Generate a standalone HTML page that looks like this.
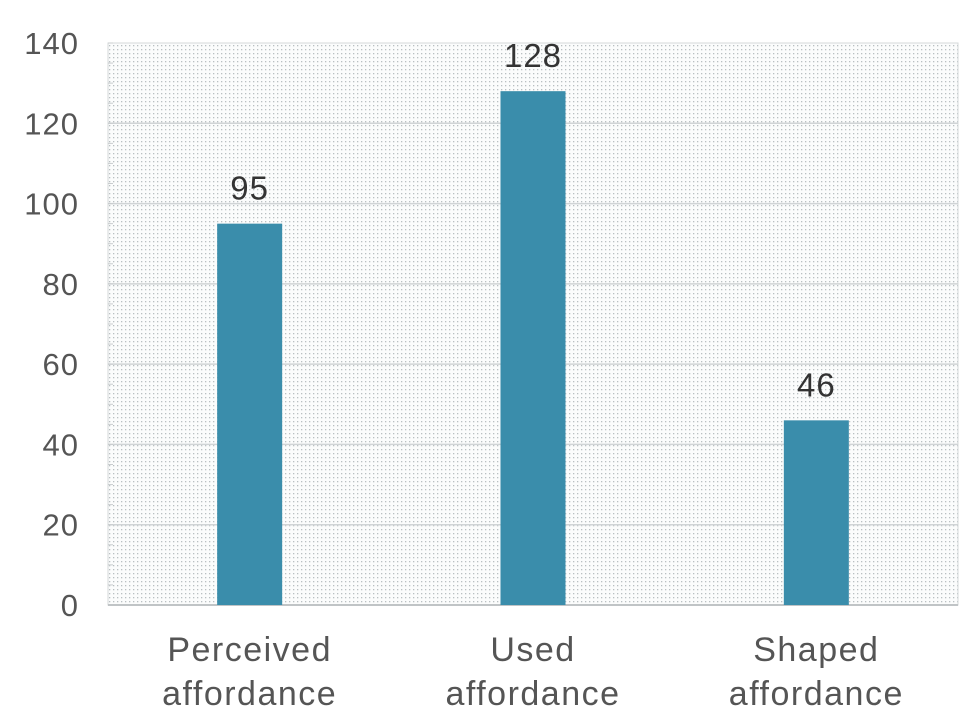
<!DOCTYPE html>
<html><head><meta charset="utf-8"><style>
html,body{margin:0;padding:0;background:#fff;width:972px;height:722px;overflow:hidden}
text{font-family:"Liberation Sans","DejaVu Sans",sans-serif}
</style></head><body>
<svg id="chart" width="972" height="722">
<defs><pattern id="dots" width="4" height="4" patternUnits="userSpaceOnUse"><rect width="4" height="4" fill="#fbfcfc"/><rect x="1" y="1" width="1.3" height="1.3" fill="#b9bfc2"/></pattern></defs>
<rect x="108" y="43" width="850" height="562" fill="url(#dots)" stroke="#d4d8da"/>
<g id="grid"></g><g id="bars"></g><g id="labels"></g>
</svg>
<script>
const categories=[["Perceived","affordance"],["Used","affordance"],["Shaped","affordance"]];
const values=[95,128,46];
const ticks=[0,20,40,60,80,100,120,140];
const NS="http://www.w3.org/2000/svg";
const x0=108,x1=958,yTop=43,yBot=605,vmax=140;
const y=v=>yBot-(v/vmax)*(yBot-yTop);
const band=(x1-x0)/categories.length;
const xc=i=>x0+band*(i+0.5);
function mk(t,a,p){const e=document.createElementNS(NS,t);for(const k in a)e.setAttribute(k,a[k]);p.appendChild(e);return e;}
const grid=document.getElementById('grid'),bars=document.getElementById('bars'),labels=document.getElementById('labels');
ticks.forEach(t=>{
 if(t>0&&t<vmax){const l=mk('line',{x1:x0,x2:x1,y1:y(t),y2:y(t),stroke:'#d0d4d6','stroke-width':1.5},grid);
 
 }
 const tx=mk('text',{x:79,y:y(t)+11,'text-anchor':'end','font-size':31,fill:'#555','letter-spacing':1},labels);
 tx.textContent=t;
 
 
});
for(let v=0;v<=vmax;v+=5){const m=mk('line',{x1:x0,x2:x0+5,y1:y(v),y2:y(v),stroke:'#c8ccce'},grid);
 
 }
mk('line',{x1:x0,x2:x1,y1:yBot,y2:yBot,stroke:'#c0c4c6','stroke-width':2},grid);
const bw=65;
values.forEach((v,i)=>{
 const r=mk('rect',{x:xc(i)-bw/2,y:y(v),width:bw,height:yBot-y(v),fill:'#3a8dab'},bars);
 
 
 const t=mk('text',{x:xc(i),y:y(v)-24,'text-anchor':'middle','font-size':33,fill:'#333','letter-spacing':1},labels);
 t.textContent=v;
 
 
 categories[i].forEach((s,j)=>{
  const c=mk('text',{x:xc(i),y:661+j*44,'text-anchor':'middle','font-size':34,fill:'#555','letter-spacing':1.5},labels);
  c.textContent=s;
  
  
 });
});
</script>
</body></html>
